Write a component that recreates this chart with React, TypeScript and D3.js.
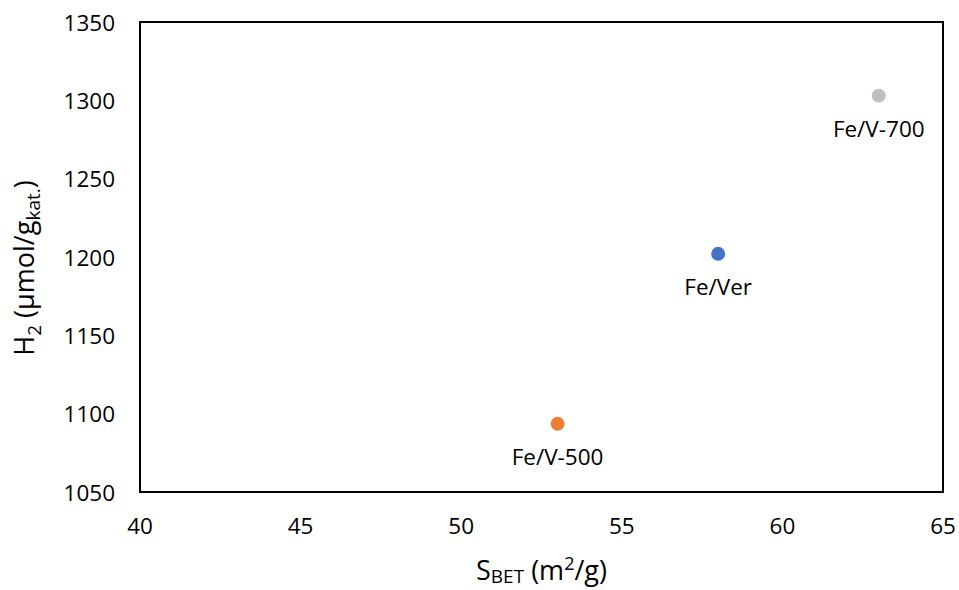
import React from "react";
import * as d3 from "d3";

const labels = ["Fe/V-500", "Fe/Ver", "Fe/V-700"];
const xValues = [53, 58, 63];
const yValues = [1093.5, 1202, 1303];
const colors = ["#ED7D31", "#4472C4", "#BFBFBF"];
const xTicks = [40, 45, 50, 55, 60, 65];
const yTicks = [1050, 1100, 1150, 1200, 1250, 1300, 1350];

const W = 959;
const H = 590;
const M = { left: 140, right: 16, top: 22, bottom: 98 };
const FONT = "'Open Sans', 'Liberation Sans', sans-serif";

export default function App() {
  const x = d3.scaleLinear().domain([40, 65]).range([M.left, W - M.right]);
  const y = d3.scaleLinear().domain([1050, 1350]).range([H - M.bottom, M.top]);
  return (
    <svg width={W} height={H} style={{ position: "absolute", left: 0, top: 0, background: "#fff" }} fontFamily={FONT}>
      <rect x={0} y={0} width={W} height={H} fill="#fff" />
      <rect x={x(40)} y={y(1350)} width={x(65) - x(40)} height={y(1050) - y(1350)} fill="none" stroke="#000" strokeWidth={2} />
      {xTicks.map((t) => (
        <text key={t} x={x(t)} y={y(1050) + 42} fontSize={22.5} textAnchor="middle" fill="#000">{t}</text>
      ))}
      {yTicks.map((t) => (
        <text key={t} x={x(40) - 25} y={y(t) + 8.5} fontSize={22.5} textAnchor="end" fill="#000">{t}</text>
      ))}
      {xValues.map((v, i) => (
        <g key={labels[i]}>
          <circle cx={x(v)} cy={y(yValues[i])} r={7} fill={colors[i]} />
          <text x={x(v)} y={y(yValues[i]) + 41} fontSize={22.5} textAnchor="middle" fill="#000">{labels[i]}</text>
        </g>
      ))}
      <text x={(x(40) + x(65)) / 2} y={580} fontSize={27} textAnchor="middle" fill="#000">
        S<tspan fontSize={19} dy={3}>BET</tspan><tspan dy={-3}> (m</tspan><tspan fontSize={18} dy={-10}>2</tspan><tspan dy={10}>/g)</tspan>
      </text>
      <text transform={`translate(34, 268) rotate(-90)`} fontSize={27} textAnchor="middle" fill="#000">
        H<tspan fontSize={19} dy={7}>2</tspan><tspan dy={-7}> (μmol/g</tspan><tspan fontSize={19} dy={6}>kat.</tspan><tspan dy={-6}>)</tspan>
      </text>
    </svg>
  );
}
